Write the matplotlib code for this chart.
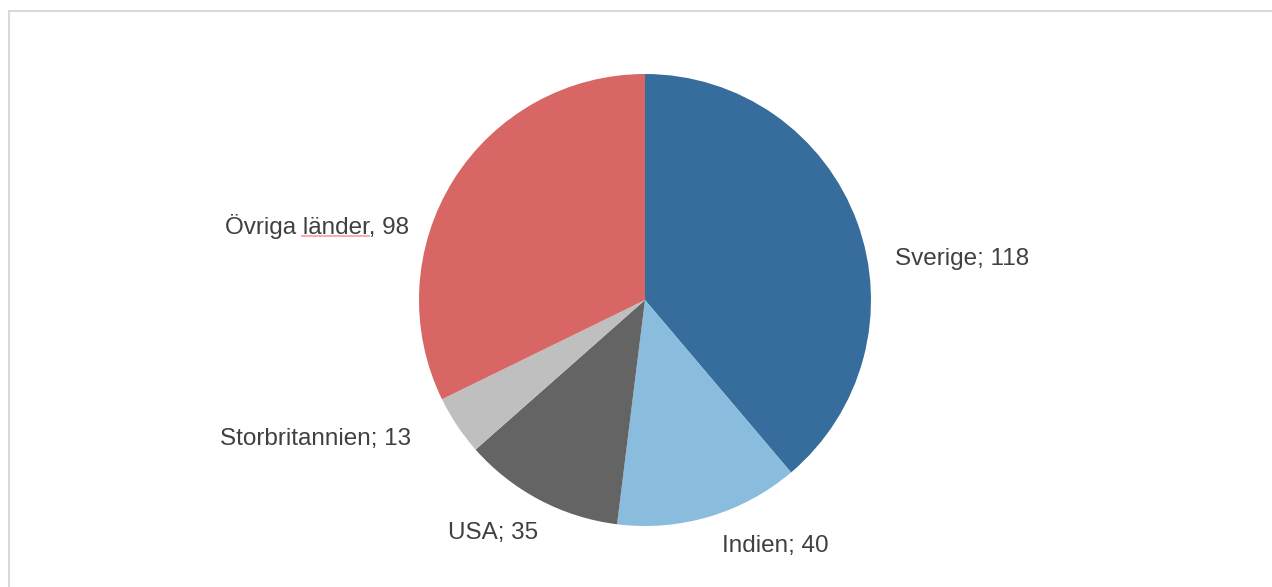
import matplotlib
matplotlib.use("Agg")
import matplotlib.pyplot as plt
from matplotlib.patches import Rectangle

categories = ["Sverige", "Indien", "USA", "Storbritannien", "Övriga länder"]
values = [118, 40, 35, 13, 98]
separators = ["; ", "; ", "; ", "; ", ", "]
colors = ["#376d9c", "#89bcdd", "#646464", "#bfbfbf", "#d76664"]

# label placement (data coords of the pie axes, radius 1) and alignment
label_pos = [(1.105, 0.18), (0.575, -1.09), (-0.673, -1.032), (-1.035, -0.616), (-1.044, 0.327)]
label_ha = ["left", "center", "center", "right", "right"]

W, H = 1272, 587
fig = plt.figure(figsize=(W / 100, H / 100), dpi=100)
fig.patch.set_facecolor("white")

# outer border of chart area
fig.add_artist(Rectangle((9 / W, -0.01), 1.05, (H - 10.5) / H + 0.01, transform=fig.transFigure,
                         fill=False, edgecolor="#d9d9d9", linewidth=1.5))

cx, cy, r = 645, 300, 226
ax = fig.add_axes([(cx - r) / W, (H - cy - r) / H, 2 * r / W, 2 * r / H])
wedges, _ = ax.pie(values, colors=colors, startangle=90, counterclock=False,
                   wedgeprops=dict(linewidth=0, edgecolor="none"))
ax.set_xlim(-1, 1)
ax.set_ylim(-1, 1)
ax.set_aspect("equal")
ax.axis("off")

for cat, sep, val, (x, y), ha in zip(categories, separators, values, label_pos, label_ha):
    ax.text(x, y, f"{cat}{sep}{val}", ha=ha, va="center", fontsize=17.5,
            color="#404040", family="Liberation Sans", clip_on=False, zorder=5)

# spell-check underline under "länder"
ax.plot([-1.52, -1.218], [0.285, 0.285], color="#f2a0a0", linewidth=1.2,
        clip_on=False, solid_capstyle="butt", zorder=4)

fig.savefig("out.png", dpi=100)
